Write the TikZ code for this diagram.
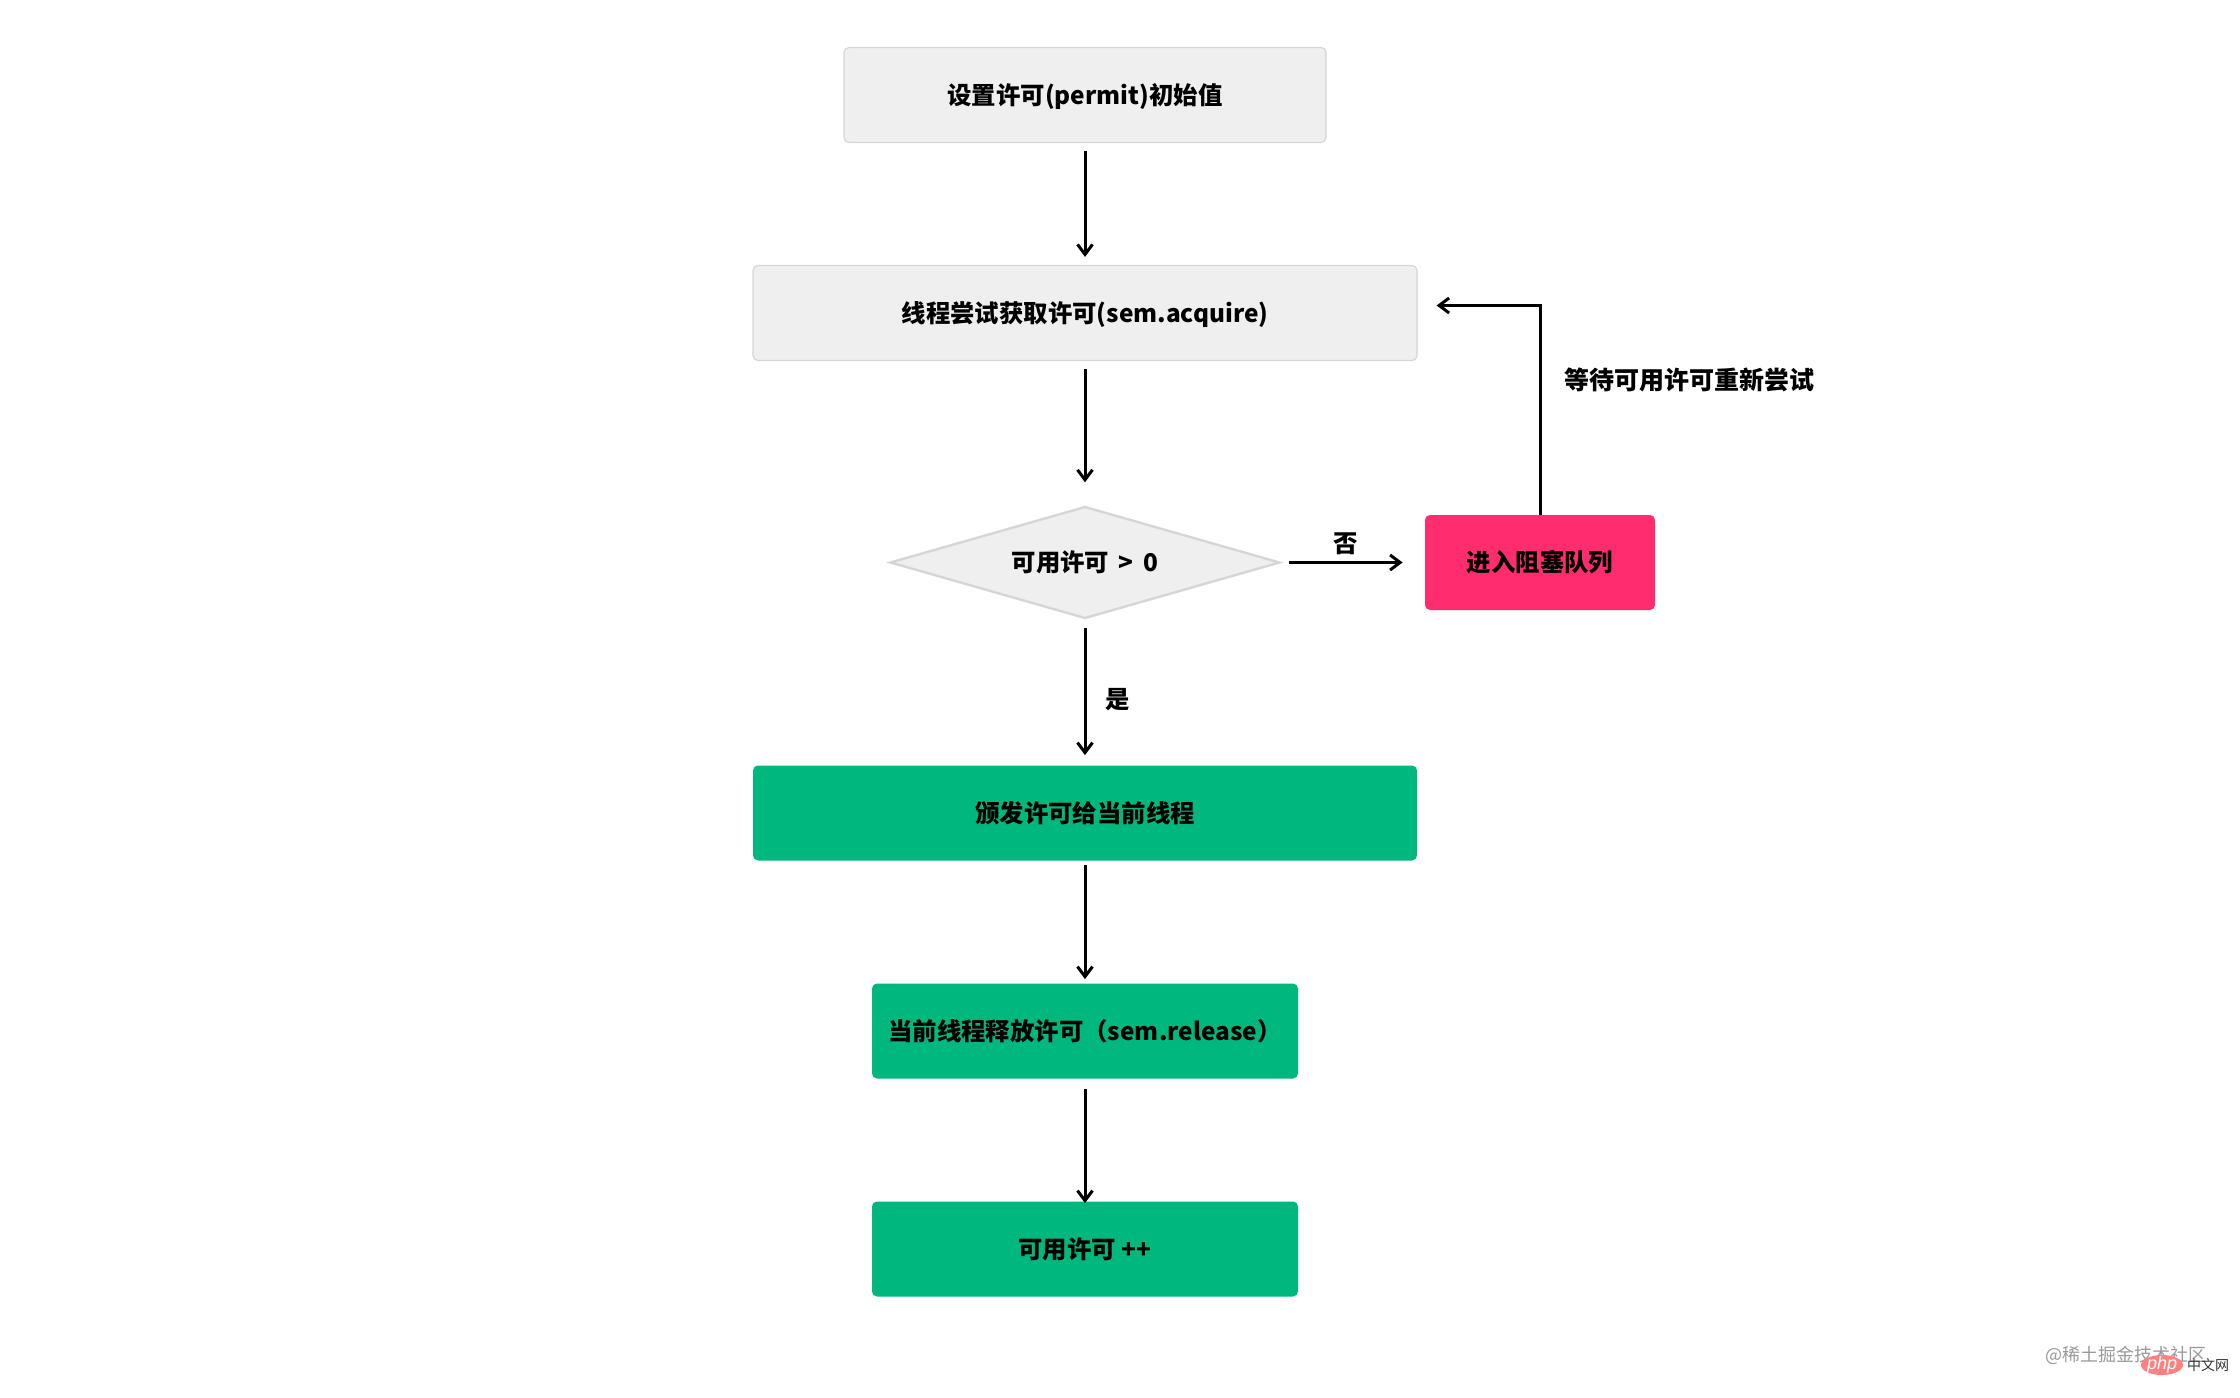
\documentclass[tikz,border=0pt]{standalone}
\usepackage{fontspec}
\setmainfont{Noto Sans CJK SC}
\newfontfamily\logofont{Liberation Sans}
\usetikzlibrary{shapes.geometric,arrows.meta}
\definecolor{boxgray}{HTML}{EFEFEF}
\definecolor{linegray}{HTML}{D6D6D6}
\definecolor{okgreen}{HTML}{00B77D}
\definecolor{waitpink}{HTML}{FF2D70}
\tikzset{node distance=109pt, auto}
\tikzset{
  every node/.style={font=\fontsize{12.2}{14}\selectfont\bfseries},
  box/.style={rectangle, rounded corners=2.5pt, inner sep=0pt, minimum height=47.5pt, text height=10pt, text depth=.6pt},
  graybox/.style={box, fill=boxgray, draw=linegray, line width=.6pt},
  greenbox/.style={box, fill=okgreen},
  flow/.style={->, line width=1.5pt, shorten >=4pt, shorten <=4pt}
}

\begin{document}
\begin{tikzpicture}[x=.5pt, y=-.5pt, >={Straight Barb[length=5pt,width=7.5pt]}]
  \useasboundingbox (0,0) rectangle (2240,1398);

  \node (A) [graybox, minimum width=241pt] at (1085,95) {设置许可(permit)初始值};
  \node (B) [graybox, minimum width=332pt, below of=A] {线程尝试获取许可(sem.acquire)};
  \node (C) [diamond, aspect=3.5, inner sep=0pt, fill=boxgray, draw=linegray, line width=1.2pt, text height=10pt, text depth=.6pt,
             minimum width=195pt, minimum height=56pt, below of=B, node distance=124.75pt] {可用许可 \,>\, 0};
  \node (D) [box, fill=waitpink, minimum width=115pt, right of=C, node distance=227.5pt] {进入阻塞队列};
  \node (E) [greenbox, minimum width=332pt, below of=C, node distance=125.25pt] {颁发许可给当前线程};
  \node (F) [greenbox, minimum width=213pt, below of=E] {当前线程释放许可（sem.release）};
  \node (G) [greenbox, minimum width=213pt, below of=F] {可用许可 ++};

  \draw[flow] (A) to (B);
  \draw[flow, shorten >=11.5pt] (B) to (C);
  \draw[flow, shorten >=11pt] (C) to node [pos=.45] {否} (D);
  \draw[flow, shorten >=5pt] (C) to node [pos=.55, xshift=6pt] {是} (E);
  \draw[flow, shorten <=2pt, shorten >=2pt] (E) to (F);
  \draw[flow, shorten <=5pt, shorten >=-1pt] (F) to (G);
  \draw[flow, shorten <=0pt, shorten >=9.5pt] (D.north) |- ([yshift=3.75pt]B.east);
  \node (W) [anchor=west, font=\fontsize{12.5}{14}\selectfont\bfseries, inner sep=0pt] at (1564,380) {等待可用许可重新尝试};

  % watermark
  \node (M) [anchor=west, inner sep=0pt, text=gray!80, font=\fontsize{9}{11}\selectfont] at (2045,1355) {@稀土掘金技术社区};
  \node (L) [ellipse, fill=red!50!white, minimum width=21pt, minimum height=10pt, inner sep=0pt] at (2162,1365) {};
  \node (P) [text=white, inner sep=0pt, font=\fontsize{9}{10}\logofont\itshape] at (L) {php};
  \node (N) [right of=L, node distance=23pt, inner sep=0pt, text=black!80, font=\fontsize{7}{8}\selectfont] {中文网};
\end{tikzpicture}
\end{document}
